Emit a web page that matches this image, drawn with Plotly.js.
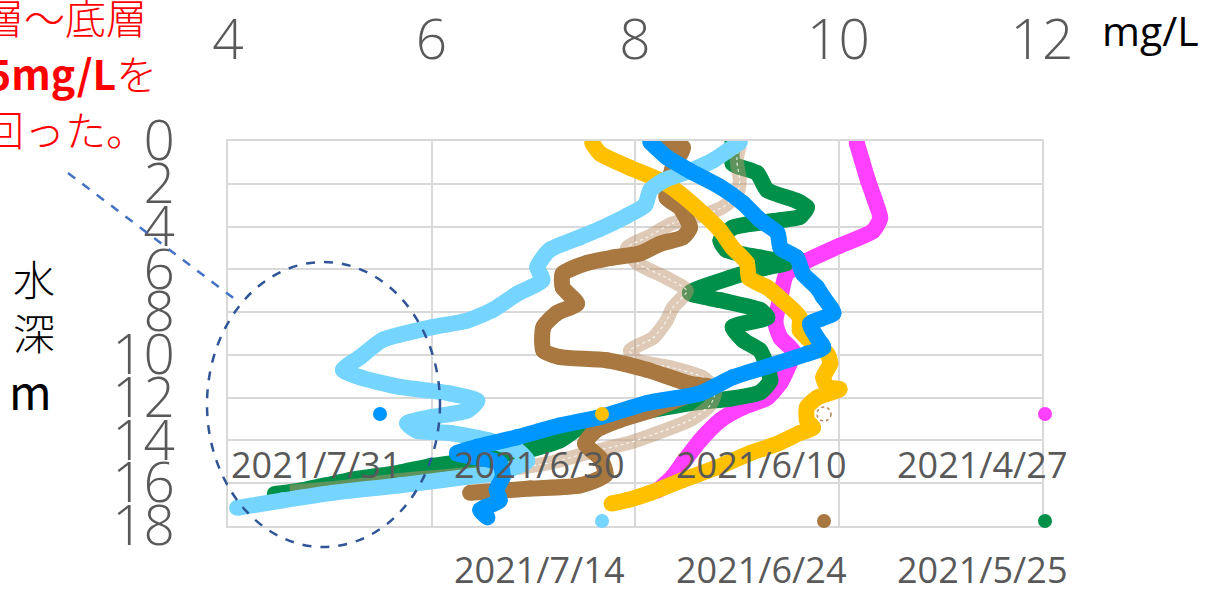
<!DOCTYPE html>
<html><head><meta charset="utf-8">
<script src="https://cdn.plot.ly/plotly-3.0.1.min.js"></script>
<style>html,body{margin:0;padding:0;background:#fff}#chart{width:1214px;height:589px}</style>
</head><body><div id="chart"></div>
<script>
// ---- data (DO mg/L vs depth m) ----
const xTicks = [4, 6, 8, 10, 12];
const yTicks = [0, 2, 4, 6, 8, 10, 12, 14, 16, 18];

const do_0427 = [10.18,10.23,10.29,10.36,10.41,10.34,10.01,9.69,9.49,9.43,9.38,9.43,9.55,9.52,9.43,9.30,9.06,8.84,8.64,8.47,8.37,8.22];
const dep_0427 = [0.1,0.9,1.85,2.8,3.6,4.2,4.9,5.6,6.2,7.3,8.5,9.2,9.8,10.4,11.3,12.0,12.45,13.05,14.0,15.05,15.7,16.35];

const do_0525 = [8.96,8.96,9.20,9.30,9.59,9.69,9.62,9.43,8.96,8.84,8.90,9.23,9.49,9.30,8.93,8.54,8.84,9.23,9.30,8.96,9.06,9.23,9.30,9.33,9.23,8.93,8.64,8.25,7.85,7.56,7.26,6.87,6.38,5.99,5.69,5.20,4.71,4.46];
const dep_0525 = [0.0,1.05,1.5,2.3,2.8,3.1,3.55,3.7,4.05,4.65,5.1,5.45,5.7,5.9,6.4,7.1,7.45,7.9,8.25,8.7,9.3,9.8,10.6,11.2,11.75,12.05,12.2,12.5,12.85,13.05,14.0,14.55,14.95,15.2,15.5,15.85,16.35,16.5];

const do_0610 = [9.03,9.00,9.03,9.00,8.86,8.71,8.37,8.12,7.92,8.02,8.31,8.51,8.37,8.31,8.18,7.95,8.02,8.37,8.67,8.79,8.74,8.54,8.25,7.95,7.56,7.16,6.67,6.18,5.69,5.10,4.61];
const dep_0610 = [0.2,0.9,1.85,2.55,3.1,3.4,3.85,4.5,5.0,5.7,6.4,7.0,7.8,8.4,9.2,9.8,10.25,10.6,11.05,11.65,12.35,13.05,13.6,14.1,14.55,15.05,15.4,15.65,15.85,16.2,16.4];

const do_0624 = [8.22,8.47,8.37,8.31,8.44,8.54,8.47,8.25,8.05,7.78,7.53,7.29,7.29,7.43,7.23,7.10,7.10,7.26,7.72,8.12,8.54,8.74,8.47,8.15,7.85,7.61,7.51,7.66,7.71,7.46,6.97,6.38];
const dep_0624 = [0.0,0.3,1.25,2.65,3.1,4.05,4.5,4.8,5.25,5.45,5.7,6.2,6.85,7.6,8.05,8.7,9.8,10.1,10.25,10.7,11.35,11.5,12.0,12.6,13.05,13.55,14.15,14.85,15.6,16.1,16.25,16.45];

const do_0630 = [7.58,7.66,7.95,8.25,8.44,8.67,8.84,8.96,9.10,9.12,9.30,9.45,9.62,9.62,9.75,9.89,9.92,9.85,9.89,10.01,9.79,9.69,9.69,9.75,9.62,9.40,9.13,8.81,8.47,8.15,7.92,7.77];
const dep_0630 = [0.1,0.6,1.25,1.85,2.45,3.4,4.2,5.0,5.7,6.4,6.85,7.45,8.25,8.85,9.45,9.95,10.4,11.05,11.5,11.6,12.0,12.45,13.05,13.4,13.65,14.15,14.6,15.25,15.85,16.45,16.8,16.95];

const do_0714 = [9.03,8.77,8.54,8.28,8.15,8.10,7.92,7.66,7.46,7.16,7.04,7.09,6.84,6.60,6.35,6.01,5.52,5.30,5.13,5.30,5.69,6.18,6.45,6.35,6.01,5.76,5.86,6.18,6.57,6.84,6.94,6.67,6.35,5.69,5.03,4.54,4.09];
const dep_0714 = [0.05,0.9,1.4,1.85,2.3,3.0,3.5,4.1,4.5,5.1,5.9,6.5,7.15,7.9,8.4,8.7,9.3,10.1,10.7,11.05,11.5,11.8,12.15,12.6,12.9,13.2,13.55,13.65,14.0,14.45,14.95,15.5,15.7,16.1,16.45,16.8,17.15];

const do_0731 = [8.15,8.31,8.54,8.84,9.06,9.23,9.40,9.43,9.59,9.65,9.79,9.85,9.95,9.72,9.79,9.85,9.69,9.40,8.96,8.64,8.12,7.66,7.26,6.84,6.45,6.25,6.45,6.67,6.70,6.64,6.67,6.48,6.55];
const dep_0731 = [0.05,0.75,1.4,2.15,2.9,3.7,4.3,5.0,5.45,6.2,6.85,7.3,8.05,8.55,9.2,9.65,9.95,10.4,11.05,11.8,12.25,12.9,13.3,13.85,14.3,14.6,14.8,15.05,15.7,16.3,16.8,17.25,17.6];

const seriesNames = ['2021/4/27','2021/5/25','2021/6/10','2021/6/24','2021/6/30','2021/7/14','2021/7/31'];
const seriesColors = ['#FF40FF','#00904A','#B8885A','#A87840','#FFC000','#75D5FF','#0096FF'];
const seriesX = [do_0427, do_0525, do_0610, do_0624, do_0630, do_0714, do_0731];
const seriesY = [dep_0427, dep_0525, dep_0610, dep_0624, dep_0630, dep_0714, dep_0731];

// ---- layout helpers (pixel -> paper) ----
const W = 1214, H = 589, PL = 228, PR = 1042, PT = 141, PB = 526;
const fx = px => (px - PL) / (PR - PL);
const fy = py => (PB - py) / (PB - PT);

const traces = [];
seriesNames.forEach((nm, i) => {
  if (nm === '2021/6/10') {
    traces.push({type:'scatter', mode:'lines', name:nm, x:seriesX[i], y:seriesY[i],
      line:{color:'rgba(190,150,110,0.5)', width:14, shape:'spline', smoothing:0.6}, hoverinfo:'skip'});
    traces.push({type:'scatter', mode:'lines', name:nm, x:seriesX[i], y:seriesY[i],
      line:{color:'rgba(255,255,255,0.8)', width:1.2, dash:'dot', shape:'spline', smoothing:0.6}});
  } else {
    traces.push({type:'scatter', mode:'lines+markers', name:nm, x:seriesX[i], y:seriesY[i],
      line:{color:seriesColors[i], width:16, shape:'spline', smoothing:0.6},
      marker:{color:seriesColors[i], size:16}});
  }
});

// legend (custom placement like the original)
const legendEntries = [
  {name:'2021/7/31', color:'#0096FF', mx:380, my:414, tx:316, ty:464},
  {name:'2021/6/30', color:'#FFC000', mx:602, my:414, tx:539, ty:464},
  {name:'2021/6/10', color:'dot',     mx:824, my:414, tx:761, ty:464},
  {name:'2021/4/27', color:'#FF40FF', mx:1045, my:414, tx:982, ty:464},
  {name:'2021/7/14', color:'#75D5FF', mx:602, my:521, tx:539, ty:569},
  {name:'2021/6/24', color:'#A87840', mx:824, my:521, tx:761, ty:569},
  {name:'2021/5/25', color:'#00904A', mx:1045, my:521, tx:982, ty:569}
];

const shapes = [];
const annotations = [];
legendEntries.forEach(e => {
  const s = {type:'circle', xref:'paper', yref:'paper', xsizemode:'pixel', ysizemode:'pixel',
    xanchor:fx(e.mx), yanchor:fy(e.my), x0:-7, x1:7, y0:-7, y1:7, layer:'above'};
  if (e.color === 'dot') {
    s.line = {color:'#B8885A', width:1.5, dash:'dot'}; s.fillcolor = 'rgba(0,0,0,0)';
  } else {
    s.line = {width:0}; s.fillcolor = e.color;
  }
  shapes.push(s);
  annotations.push({xref:'paper', yref:'paper', x:fx(e.tx), y:fy(e.ty), xanchor:'center', yanchor:'middle',
    text:e.name, showarrow:false, borderpad:0,
    font:{family:'Open Sans, Noto Sans, sans-serif', size:36, color:'#595959'}});
});

// callout ellipse and leader line
shapes.push({type:'circle', xref:'paper', yref:'paper', x0:fx(207), x1:fx(440), y0:fy(547), y1:fy(262),
  line:{color:'#2F5597', width:2.5, dash:'dash'}, fillcolor:'rgba(0,0,0,0)', layer:'above'});
shapes.push({type:'line', xref:'paper', yref:'paper', x0:fx(68), y0:fy(173), x1:fx(240), y1:fy(303),
  line:{color:'#4472C4', width:2.5, dash:'dash'}, layer:'above'});

// red note (cut by the left edge)
const redFont = {family:'Noto Sans CJK JP, sans-serif', size:41, color:'#FF0000', weight:300};
annotations.push({xref:'paper', yref:'paper', x:fx(-19), y:fy(16), xanchor:'left', yanchor:'middle', text:'層～底層', showarrow:false, font:redFont});
annotations.push({xref:'paper', yref:'paper', x:fx(-15), y:fy(72), xanchor:'left', yanchor:'middle', text:'<b>5mg/L</b>を', showarrow:false, font:redFont});
annotations.push({xref:'paper', yref:'paper', x:fx(-19), y:fy(128), xanchor:'left', yanchor:'middle', text:'回った。', showarrow:false, font:redFont});

// units and axis title
annotations.push({xref:'paper', yref:'paper', x:fx(1150), y:fy(30), xanchor:'center', yanchor:'middle', text:'mg/L', showarrow:false,
  font:{family:'Open Sans, sans-serif', size:41, color:'#000000'}});
const jpFont = {family:'Noto Sans CJK JP, sans-serif', size:42, color:'#000000', weight:300};
annotations.push({xref:'paper', yref:'paper', x:fx(34), y:fy(277), xanchor:'center', yanchor:'middle', text:'水', showarrow:false, font:jpFont});
annotations.push({xref:'paper', yref:'paper', x:fx(34), y:fy(331), xanchor:'center', yanchor:'middle', text:'深', showarrow:false, font:jpFont});
annotations.push({xref:'paper', yref:'paper', x:fx(30), y:fy(390), xanchor:'center', yanchor:'middle', text:'m', showarrow:false,
  font:{family:'Noto Sans CJK JP, sans-serif', size:46, color:'#000000'}});

const tickFont = {family:'Open Sans, Noto Sans, sans-serif', size:55, color:'#595959', weight:300};
const layout = {
  width:W, height:H,
  margin:{l:PL, r:W-PR, t:PT, b:H-PB, pad:0},
  paper_bgcolor:'#ffffff', plot_bgcolor:'#ffffff',
  showlegend:false,
  xaxis:{side:'top', range:[4,12], tickvals:xTicks, ticktext:xTicks.map(String),
    showgrid:true, gridcolor:'#D9D9D9', gridwidth:2, zeroline:false,
    showline:true, linecolor:'#D9D9D9', linewidth:2, mirror:true,
    ticks:'', tickfont:tickFont, ticklabelstandoff:58, fixedrange:true},
  yaxis:{range:[18,0], tickvals:yTicks, ticktext:yTicks.map(String),
    showgrid:true, gridcolor:'#D9D9D9', gridwidth:2, zeroline:false,
    showline:true, linecolor:'#D9D9D9', linewidth:2, mirror:true,
    ticks:'', tickfont:tickFont, ticklabelstandoff:40, fixedrange:true},
  shapes:shapes,
  annotations:annotations
};

Plotly.newPlot('chart', traces, layout, {staticPlot:true, displayModeBar:false});
</script>
</body></html>
